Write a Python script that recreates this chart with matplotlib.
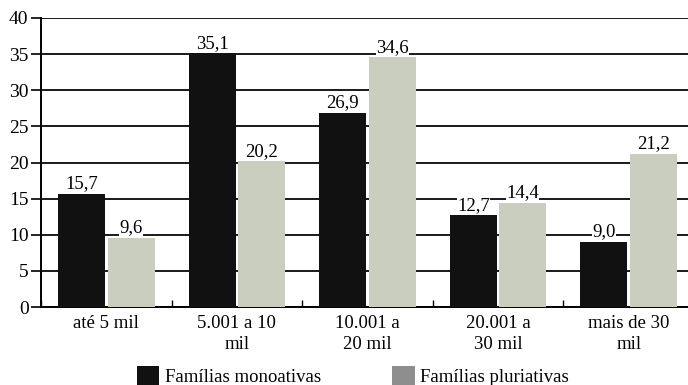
import matplotlib
matplotlib.use("Agg")
import matplotlib.pyplot as plt
import numpy as np
from matplotlib.patches import Patch

categories = ["até 5 mil", "5.001 a 10\nmil", "10.001 a\n20 mil", "20.001 a\n30 mil", "mais de 30\nmil"]
monoativas = [15.7, 35.1, 26.9, 12.7, 9.0]
pluriativas = [9.6, 20.2, 34.6, 14.4, 21.2]
series_names = ["Famílias monoativas", "Famílias pluriativas"]
yticks = [0, 5, 10, 15, 20, 25, 30, 35, 40]

plt.rcParams["font.family"] = ["Liberation Serif", "DejaVu Serif"]

W, H = 688, 385
fig = plt.figure(figsize=(W / 100, H / 100), dpi=100)
# axes spans x 41..694 px (right part falls outside the canvas), y 18..307 px
ax = fig.add_axes([41 / W, 1 - 307 / H, (694 - 41) / W, (307 - 18) / H])

x = np.arange(len(categories))
w = 0.36
off = 0.19
dark = "#111111"
light = "#c9cebf"

ax.set_axisbelow(True)
ax.yaxis.grid(True, color="#1a1a1a", linewidth=1.4)
b1 = ax.bar(x - off, monoativas, width=w, color=dark, zorder=3)
b2 = ax.bar(x + off, pluriativas, width=w, color=light, zorder=3)

for bars, vals in ((b1, monoativas), (b2, pluriativas)):
    for r, v in zip(bars, vals):
        ax.annotate(f"{v:.1f}".replace(".", ","),
                    (r.get_x() + r.get_width() / 2, v),
                    xytext=(0, 1), textcoords="offset points",
                    ha="center", va="bottom", fontsize=13.5, zorder=4,
                    bbox=dict(facecolor="white", edgecolor="none", pad=0.2))

ax.set_xlim(-0.5, len(categories) - 0.5)
ax.set_ylim(0, 40)
ax.set_yticks(yticks)
ax.set_yticklabels([str(t) for t in yticks], fontsize=14)
ax.tick_params(axis="y", direction="out", length=7, width=1.2, pad=2)

# category boundary ticks along the bottom, pointing into the plot
ax.set_xticks(np.arange(len(categories) + 1) - 0.5, minor=False)
ax.set_xticklabels([])
ax.tick_params(axis="x", which="major", direction="in", length=5, width=1.0)
ax.set_xticks(x, minor=True)
ax.set_xticklabels(categories, minor=True, fontsize=13.5, linespacing=1.25)
ax.tick_params(axis="x", which="minor", length=0, pad=6)

for s in ("top", "right"):
    ax.spines[s].set_visible(False)
ax.spines["left"].set_linewidth(1.4)
ax.spines["bottom"].set_linewidth(1.4)

handles = [Patch(facecolor=dark), Patch(facecolor="#8e8e8e")]
fig.legend(handles, series_names, loc="lower left",
           bbox_to_anchor=(129 / W, -0.022), ncol=2, frameon=False,
           fontsize=13.5, handlelength=1.2, handleheight=1.15,
           handletextpad=0.3, columnspacing=3.8, borderaxespad=0)

fig.savefig("out.png", dpi=100)
